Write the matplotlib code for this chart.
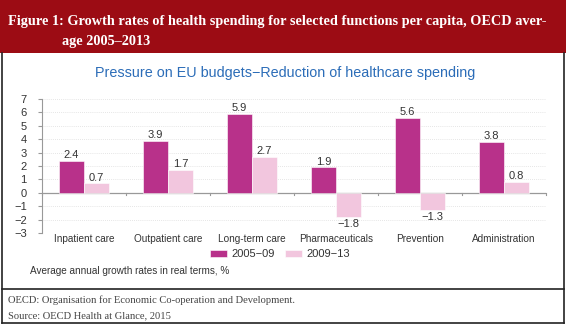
import matplotlib
matplotlib.use("Agg")
import matplotlib.pyplot as plt
from matplotlib.patches import Rectangle
from matplotlib.lines import Line2D

# data
categories = ["Inpatient care", "Outpatient care", "Long-term care",
              "Pharmaceuticals", "Prevention", "Administration"]
growth_0509 = [2.4, 3.9, 5.9, 1.9, 5.6, 3.8]
growth_0913 = [0.7, 1.7, 2.7, -1.8, -1.3, 0.8]
series_names = ["2005\u221209", "2009\u221213"]
yticks = list(range(-3, 8))

W, H = 566, 324
c_mag = "#b8318a"
c_pink = "#f2c6de"
c_text = "#333333"

fig = plt.figure(figsize=(W / 100, H / 100), dpi=100)
fig.patch.set_facecolor("white")

def fx(px):
    return px / W

def fy(py):
    return 1 - py / H

# header band
fig.patches.append(Rectangle((0, fy(53)), 1, 53 / H, transform=fig.transFigure,
                             facecolor="#9c0c14", edgecolor="none", zorder=0))
fig.text(fx(8), fy(21), "Figure 1: Growth rates of health spending for selected functions per capita, OECD aver-",
         color="white", fontsize=10.3, fontweight="bold", family="Liberation Serif", va="center", ha="left")
fig.text(fx(62), fy(41), "age 2005\u20132013",
         color="white", fontsize=10.3, fontweight="bold", family="Liberation Serif", va="center", ha="left")

# frame lines
for xs, ys in [([1.5, 1.5], [53, 323]), ([564, 564], [53, 323]),
               ([1.5, 564], [289, 289]), ([1.5, 564], [323, 323])]:
    fig.lines.append(Line2D([fx(x) for x in xs], [fy(y) for y in ys],
                            transform=fig.transFigure, color="#222222", lw=1.2))

# chart title
fig.text(fx(285), fy(73), "Pressure on EU budgets\u2212Reduction of healthcare spending",
         color="#2c6db8", fontsize=10.4, family="Liberation Sans", ha="center", va="center")

# axes
ax = fig.add_axes([fx(42), fy(233), fx(546) - fx(42), (233 - 99) / H])
x = list(range(len(categories)))
bw = 0.3
ax.bar([i - bw / 2 for i in x], growth_0509, bw, color=c_mag, edgecolor="white", lw=0.4,
       label=series_names[0], zorder=3)
ax.bar([i + bw / 2 for i in x], growth_0913, bw, color=c_pink, edgecolor="white", lw=0.4,
       label=series_names[1], zorder=3)

for i in x:
    for off, v in [(-bw / 2, growth_0509[i]), (bw / 2, growth_0913[i])]:
        s = f"{abs(v):.1f}" if v >= 0 else f"\u2212{abs(v):.1f}"
        ax.text(i + off, v + (0.05 if v >= 0 else -0.15), s, ha="center",
                va="bottom" if v >= 0 else "top", fontsize=8, color=c_text,
                family="Liberation Sans", zorder=4)
    ax.text(i, -3.45, categories[i], ha="center", va="center", fontsize=7.2,
            color=c_text, family="Liberation Sans")

ax.set_xlim(-0.5, len(categories) - 0.5)
ax.set_ylim(-3, 7)
ax.set_yticks(yticks)
ax.set_yticklabels([str(t) if t >= 0 else f"\u2212{abs(t)}" for t in yticks],
                   fontsize=8, color=c_text, family="Liberation Sans")
ax.tick_params(axis="y", length=3, color="#999999", pad=8)
for t in yticks:
    if t != 0:
        ax.axhline(t, color="#dddddd", lw=0.6, ls=(0, (1, 1.5)), zorder=1)
ax.axhline(0, color="#999999", lw=0.9, zorder=2)
for b in range(len(categories) + 1):
    ax.plot([b - 0.5, b - 0.5], [0, -0.15], color="#999999", lw=0.8, zorder=2, clip_on=False)
ax.set_xticks([])
for s in ["top", "right", "bottom"]:
    ax.spines[s].set_visible(False)
ax.spines["left"].set_color("#999999")
ax.spines["left"].set_linewidth(0.8)

# legend
fig.legend(loc="center", bbox_to_anchor=(fx(280), fy(254)), ncol=2, frameon=False,
           prop={"family": "Liberation Sans", "size": 8}, handlelength=1.5, handleheight=0.6,
           columnspacing=1.0, handletextpad=0.4, labelcolor=c_text)

fig.text(fx(30), fy(271), "Average annual growth rates in real terms, %", fontsize=7.2,
         color=c_text, family="Liberation Sans", va="center")

fig.text(fx(8), fy(300), "OECD: Organisation for Economic Co-operation and Development.",
         fontsize=7.6, color="#444444", family="Liberation Serif", va="center")
fig.text(fx(8), fy(316), "Source: OECD Health at Glance, 2015",
         fontsize=7.6, color="#444444", family="Liberation Serif", va="center")

fig.savefig("out.png", dpi=100)
